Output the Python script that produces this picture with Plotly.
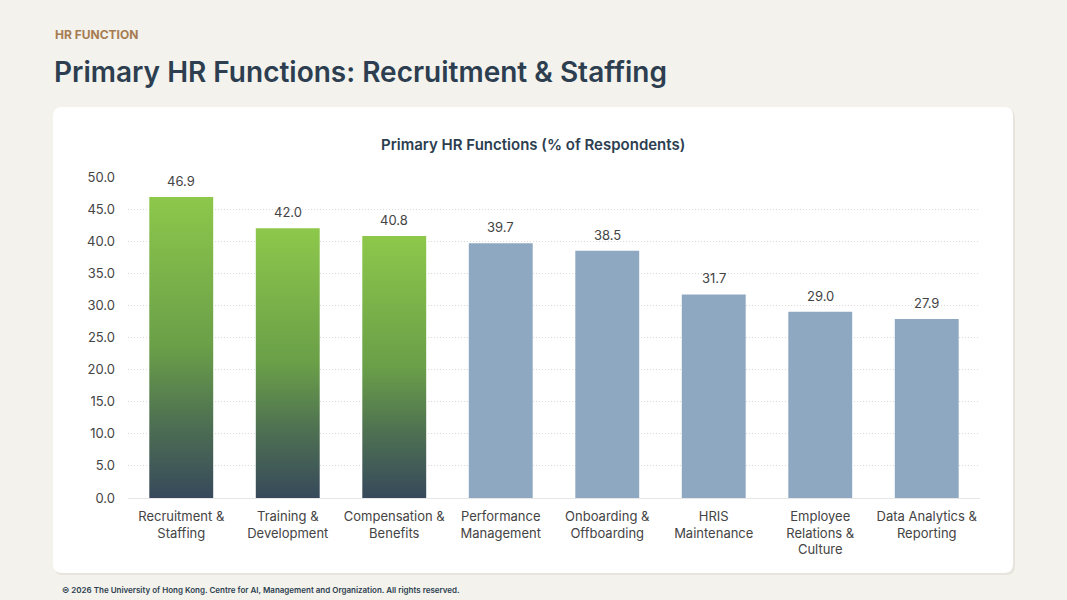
import plotly.graph_objects as go

categories = ["Recruitment &<br>Staffing", "Training &<br>Development", "Compensation &<br>Benefits",
              "Performance<br>Management", "Onboarding &<br>Offboarding", "HRIS<br>Maintenance",
              "Employee<br>Relations &<br>Culture", "Data Analytics &<br>Reporting"]
values = [46.9, 42.0, 40.8, 39.7, 38.5, 31.7, 29.0, 27.9]
highlighted = [True, True, True, False, False, False, False, False]
y_ticks = [0, 5, 10, 15, 20, 25, 30, 35, 40, 45, 50]

W, H = 1067, 600
L, R, T, B = 128, 87, 177, 102
pw, ph = W - L - R, H - T - B
FONT = "Inter, Roboto, sans-serif"
green_scale = [[0, "#37495B"], [0.25, "#4E7052"], [0.5, "#6A9F48"], [1, "#8DC84B"]]
blue = "#8FA8C1"
half = 0.3


def px(x):
    return (x - L) / pw


def py(y):
    return (H - B - y) / ph


def rounded(x0, y0, x1, y1, r):
    # rounded rectangle path in paper coords from pixel box
    return (f"M {px(x0 + r)} {py(y0)} L {px(x1 - r)} {py(y0)} Q {px(x1)} {py(y0)} {px(x1)} {py(y0 + r)} "
            f"L {px(x1)} {py(y1 - r)} Q {px(x1)} {py(y1)} {px(x1 - r)} {py(y1)} "
            f"L {px(x0 + r)} {py(y1)} Q {px(x0)} {py(y1)} {px(x0)} {py(y1 - r)} "
            f"L {px(x0)} {py(y0 + r)} Q {px(x0)} {py(y0)} {px(x0 + r)} {py(y0)} Z")


fig = go.Figure()

for i, (v, hl) in enumerate(zip(values, highlighted)):
    xs = [i - half, i + half, i + half, i - half, i - half]
    ys = [0, 0, v, v, 0]
    if hl:
        fig.add_trace(go.Scatter(x=xs, y=ys, fill="toself", mode="lines", line=dict(width=0),
                                 fillgradient=dict(type="vertical", colorscale=green_scale, start=0, stop=v),
                                 hoverinfo="skip", showlegend=False))
    else:
        fig.add_trace(go.Scatter(x=xs, y=ys, fill="toself", mode="lines", line=dict(width=0),
                                 fillcolor=blue, hoverinfo="skip", showlegend=False))

value_labels = [dict(text=f"{v:.1f}", x=i, y=v, xref="x", yref="y", yanchor="bottom", yshift=6,
                     showarrow=False, font=dict(family=FONT, size=13, color="#444444"))
                for i, v in enumerate(values)]

fig.update_layout(
    width=W, height=H,
    margin=dict(l=L, r=R, t=T, b=B),
    paper_bgcolor="#F3F2EC", plot_bgcolor="white",
    font=dict(family=FONT, color="#444444"),
    xaxis=dict(range=[-0.5, len(values) - 0.5], tickvals=list(range(len(values))), ticktext=categories,
               showgrid=False, zeroline=False, showline=True, linecolor="#E6E6E6", linewidth=1,
               tickfont=dict(size=13, color="#444444"), ticklabelstandoff=6, fixedrange=True),
    yaxis=dict(range=[0, 50], tickvals=y_ticks, ticktext=[f"{t:.1f}" for t in y_ticks],
               showgrid=True, gridcolor="#DADADA", griddash="1px,2px", gridwidth=1, zeroline=False,
               tickfont=dict(size=13, color="#444444"), ticklabelstandoff=12, fixedrange=True),
    shapes=[
        dict(type="path", xref="paper", yref="paper", path=rounded(54, 109, 1015, 575, 9),
             fillcolor="#E6E4DC", line=dict(width=0), layer="below"),
        dict(type="path", xref="paper", yref="paper", path=rounded(53, 107, 1013, 573, 9),
             fillcolor="white", line=dict(width=0), layer="below"),
    ],
    annotations=value_labels + [
        dict(text="<b>HR FUNCTION</b>", x=px(53), y=py(35), xref="paper", yref="paper",
             xanchor="left", yanchor="middle", showarrow=False,
             font=dict(family=FONT, size=12, color="#A67C52")),
        dict(text="Primary HR Functions: Recruitment & Staffing", x=px(52), y=py(72), xref="paper", yref="paper",
             xanchor="left", yanchor="middle", showarrow=False,
             font=dict(family=FONT, size=28, color="#2C3E50", weight=600)),
        dict(text="Primary HR Functions (% of Respondents)", x=px(533), y=py(144), xref="paper", yref="paper",
             xanchor="center", yanchor="middle", showarrow=False,
             font=dict(family=FONT, size=15, color="#2C3E50", weight=600)),
        dict(text="© 2026 The University of Hong Kong. Centre for AI, Management and Organization. All rights reserved.",
             x=px(60), y=py(590), xref="paper", yref="paper", xanchor="left", yanchor="middle", showarrow=False,
             font=dict(family=FONT, size=8, color="#2C3E50", weight=600)),
    ],
)

fig.write_html("out.html", config={"displayModeBar": False},
               post_script="document.body.style.margin='0';")
